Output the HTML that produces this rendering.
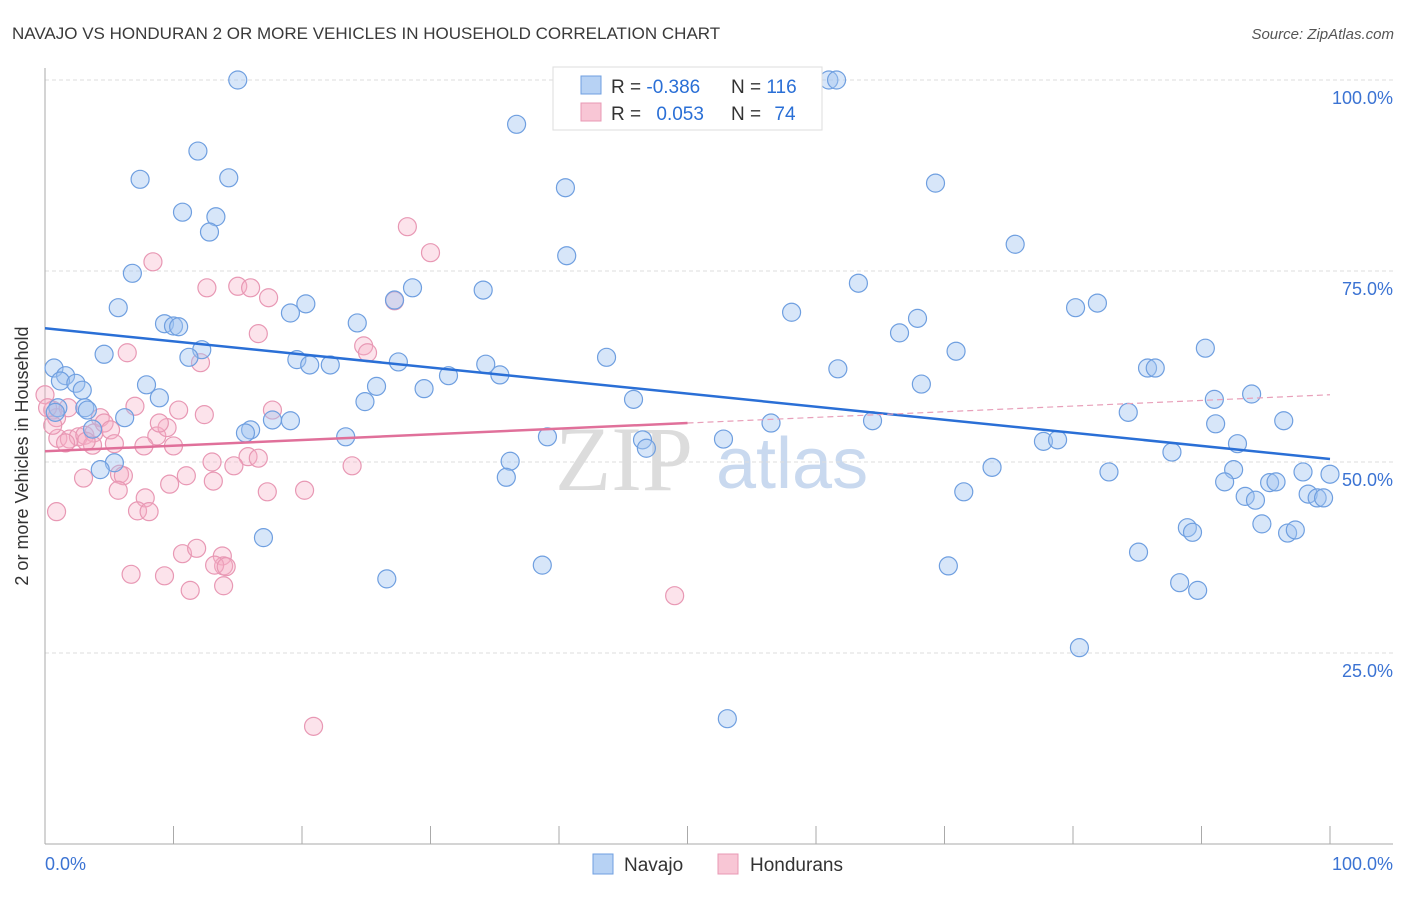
<!DOCTYPE html>
<html><head><meta charset="utf-8">
<style>
html,body{margin:0;padding:0;background:#fff;}
body{width:1406px;height:892px;overflow:hidden;font-family:"Liberation Sans",sans-serif;}
</style></head>
<body>
<svg id="chart" width="1406" height="892" xmlns="http://www.w3.org/2000/svg">
<text x="12" y="39" font-size="17" fill="#3a3a3a">NAVAJO VS HONDURAN 2 OR MORE VEHICLES IN HOUSEHOLD CORRELATION CHART</text>
<text x="1394" y="39" font-size="15" fill="#555" text-anchor="end" font-style="italic">Source: ZipAtlas.com</text>
<g>
<text x="555" y="490" font-size="92" fill="#dcdcdc" font-family="Liberation Serif, serif">ZIP</text>
<text x="716" y="488" font-size="72" fill="#c9d9ef">atlas</text>
</g>
<g id="grid"></g>
<g id="axes"></g>
<g id="marks"></g>
<g id="trends"></g>
<text x="28" y="456" font-size="18" fill="#333" text-anchor="middle" transform="rotate(-90 28 456)">2 or more Vehicles in Household</text>
<g>
<rect x="553" y="67" width="269" height="63" fill="#fff" stroke="#ddd"/>
<rect x="581" y="76" width="20" height="18" fill="#b7d2f4" stroke="#6f9fe0"/>
<rect x="581" y="103" width="20" height="18" fill="#f8c6d5" stroke="#e898b4"/>
<text x="611" y="93" font-size="19" fill="#333">R = <tspan fill="#2a6fd6">-0.386</tspan></text>
<text x="731" y="93" font-size="19" fill="#333">N = <tspan fill="#2a6fd6">116</tspan></text>
<text x="611" y="120" font-size="19" fill="#333">R = <tspan fill="#2a6fd6" dx="10">0.053</tspan></text>
<text x="731" y="120" font-size="19" fill="#333">N = <tspan fill="#2a6fd6" dx="8">74</tspan></text>
</g>
<g>
<rect x="593" y="854" width="20" height="20" fill="#b7d2f4" stroke="#6f9fe0"/>
<text x="624" y="871" font-size="19" fill="#333">Navajo</text>
<rect x="718" y="854" width="20" height="20" fill="#f8c6d5" stroke="#e898b4"/>
<text x="750" y="871" font-size="19" fill="#333">Hondurans</text>
</g>
</svg>
<script>
const yTicks=[25,50,75,100];
const yTickLabels=["25.0%","50.0%","75.0%","100.0%"];
const xTicks=[0,10,20,30,40,50,60,70,80,90,100];
const navajoX=[15.0,61.0,61.6,36.7,11.9,7.4,14.3,40.5,69.3,10.7,13.3,12.8,75.5,40.6,6.8,63.3,34.1,28.6,27.2,20.3,19.1,5.7,80.2,81.9,58.1,24.3,9.3,10.0,10.4,67.9,66.5,90.3,70.9,4.6,12.2,11.2,43.7,19.6,20.6,22.2,27.5,34.3,35.4,61.7,85.8,86.4,0.7,1.6,1.2,2.4,2.9,7.9,31.4,25.8,29.5,68.2,93.9,91.0,8.9,24.9,45.8,3.1,3.3,84.3,96.4,6.2,19.1,17.7,56.5,64.4,91.1,3.7,16.0,15.6,23.4,39.1,46.5,52.8,46.8,77.7,78.8,92.8,87.7,5.4,4.3,36.2,35.9,73.7,82.8,92.5,97.9,100,91.8,95.3,95.8,71.5,93.4,94.2,98.3,99.0,99.5,94.7,88.9,89.3,96.7,97.3,17.0,85.1,38.7,70.3,26.6,88.3,89.7,80.5,53.1,1.0,0.8];
const navajoY=[100,100,100,94.2,90.7,87.0,87.2,85.9,86.5,82.7,82.1,80.1,78.5,77.0,74.7,73.4,72.5,72.8,71.2,70.7,69.5,70.2,70.2,70.8,69.6,68.2,68.1,67.8,67.7,68.8,66.9,64.9,64.5,64.1,64.7,63.7,63.7,63.4,62.7,62.7,63.1,62.8,61.4,62.2,62.3,62.3,62.3,61.3,60.6,60.3,59.4,60.1,61.3,59.9,59.6,60.2,58.9,58.2,58.4,57.9,58.2,57.1,56.8,56.5,55.4,55.8,55.4,55.5,55.1,55.4,55.0,54.3,54.2,53.8,53.3,53.3,52.9,53.0,51.8,52.7,52.9,52.4,51.3,49.9,49.0,50.1,48.0,49.3,48.7,49.0,48.7,48.4,47.4,47.3,47.4,46.1,45.5,45.0,45.8,45.3,45.3,41.9,41.4,40.8,40.7,41.1,40.1,38.2,36.5,36.4,34.7,34.2,33.2,25.7,16.4,57.1,56.5];
const hondX=[28.2,30.0,8.4,15.0,16.0,12.6,17.4,16.6,27.2,24.8,25.1,6.4,12.1,0,0.6,0.9,1.8,4.3,7.0,10.4,12.4,17.7,1.0,1.9,2.6,3.1,3.8,4.6,5.1,8.7,9.5,8.9,10.0,7.7,5.4,3.7,3.2,1.6,15.8,16.6,14.7,13.0,3.0,5.8,6.1,5.7,11.0,13.1,9.7,7.8,17.3,20.2,23.9,7.2,8.1,10.7,11.8,13.8,13.9,13.2,14.1,6.7,9.3,11.3,13.9,49.0,20.9,0.9,0.2,0.6];
const hondY=[80.8,77.4,76.2,73.0,72.8,72.8,71.5,66.8,71.1,65.2,64.3,64.3,63.0,58.8,56.8,55.8,57.1,55.8,57.3,56.8,56.2,56.8,53.1,53.0,53.3,53.5,53.8,55.1,54.2,53.4,54.5,55.1,52.1,52.1,52.4,52.2,52.7,52.5,50.7,50.5,49.5,50.0,47.9,48.4,48.2,46.3,48.2,47.5,47.1,45.3,46.1,46.3,49.5,43.6,43.5,38.0,38.7,37.7,36.4,36.5,36.3,35.3,35.1,33.2,33.8,32.5,15.4,43.5,57.1,54.8];
const navajoTrend=[67.5,50.4];
const hondTrend=[51.4,58.8];

const NS="http://www.w3.org/2000/svg";
const X0=45,X1=1330,Y0=844,Y100=80;
const xs=v=>X0+(X1-X0)*v/100;
const ys=v=>Y0-(Y0-Y100)*v/100;
function mk(tag,attrs,parent){const e=document.createElementNS(NS,tag);for(const k in attrs)e.setAttribute(k,attrs[k]);parent.appendChild(e);return e;}
const grid=document.getElementById('grid'),axes=document.getElementById('axes'),marks=document.getElementById('marks'),trends=document.getElementById('trends');
yTicks.forEach((t,i)=>{
  const l=mk('line',{x1:X0,x2:1393,y1:ys(t),y2:ys(t),stroke:'#ddd','stroke-dasharray':'4,3'},grid);
  
  
  const tx=mk('text',{x:1393,y:ys(t)+24,'font-size':18,fill:'#3b73d3','text-anchor':'end'},axes);
  tx.textContent=yTickLabels[i];
  
  
});
const ya=mk('line',{x1:X0,x2:X0,y1:68,y2:Y0,stroke:'#aaa'},axes);


const xa=mk('line',{x1:X0,x2:1393,y1:Y0,y2:Y0,stroke:'#aaa'},axes);


xTicks.forEach(t=>{
  const l=mk('line',{x1:xs(t),x2:xs(t),y1:826,y2:Y0,stroke:'#aaa'},axes);
  
  
});
const xl0=mk('text',{x:45,y:870,'font-size':18,fill:'#3b73d3'},axes);xl0.textContent='0.0%';


const xl1=mk('text',{x:1393,y:870,'font-size':18,fill:'#3b73d3','text-anchor':'end'},axes);xl1.textContent='100.0%';



hondX.forEach((v,i)=>{
  const c=mk('circle',{cx:xs(v),cy:ys(hondY[i]),r:9,fill:'rgba(245,175,198,0.35)',stroke:'#e898b4','stroke-width':1.2},marks);
  
  
});
navajoX.forEach((v,i)=>{
  const c=mk('circle',{cx:xs(v),cy:ys(navajoY[i]),r:9,fill:'rgba(160,196,240,0.42)',stroke:'#6f9fe0','stroke-width':1.2},marks);
  
  
});
const nt=mk('line',{x1:xs(0),y1:ys(navajoTrend[0]),x2:xs(100),y2:ys(navajoTrend[1]),stroke:'#2a6fd6','stroke-width':2.5},trends);


const hm=hondTrend[0]+(hondTrend[1]-hondTrend[0])*0.5;
const ht=mk('line',{x1:xs(0),y1:ys(hondTrend[0]),x2:xs(50),y2:ys(hm),stroke:'#e0709a','stroke-width':2.5},trends);


const hd=mk('line',{x1:xs(50),y1:ys(hm),x2:xs(100),y2:ys(hondTrend[1]),stroke:'#e8a0ba','stroke-width':1.2,'stroke-dasharray':'6,4'},trends);


</script>
</body></html>
